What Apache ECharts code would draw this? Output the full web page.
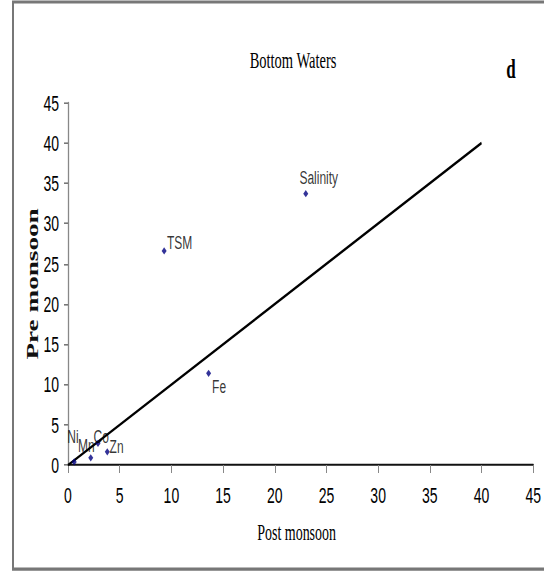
<!DOCTYPE html>
<html>
<head>
<meta charset="utf-8">
<title>Bottom Waters</title>
<script src="https://cdn.jsdelivr.net/npm/echarts@6/dist/echarts.min.js"></script>
<style>
  html, body { margin: 0; padding: 0; background: #fff; }
  #page { width: 544px; height: 571px; overflow: hidden; position: relative; background: #fff; }
  /* the figure is laid out at 1/1.6 height and stretched vertically */
  #chart { width: 544px; height: 356.875px; transform: scaleY(1.6); transform-origin: 0 0; }
</style>
</head>
<body>
<div id="page"><div id="chart"></div></div>
<script>
// Parameters compared between seasons (bottom waters)
const elements    = ['Salinity', 'TSM', 'Fe', 'Ni', 'Mn', 'Co', 'Zn'];
const postMonsoon = [23.0, 9.3, 13.6, 0.6, 2.2, 2.9, 3.8];
const preMonsoon  = [33.7, 26.6, 11.4, 0.4, 0.9, 2.7, 1.65];

// Axis ticks (both axes share the same scale)
const tickValues = [0, 5, 10, 15, 20, 25, 30, 35, 40, 45];

// 1:1 reference line
const lineStart = [0, 0];
const lineEnd   = [40, 40];

// Label placement next to each marker (pixels, before the vertical stretch)
const labelOffsets = {
  Salinity: [13, -10.3],
  TSM: [15.5, -5],
  Fe: [10.5, 8.1],
  Ni: [-1.3, -15.9],
  Mn: [-4.5, -7.9],
  Co: [3.2, -4.6],
  Zn: [9.3, -3.1]
};

const SANS = "'Liberation Sans', Arial, sans-serif";
const SERIF = "'Liberation Serif', 'Times New Roman', serif";

const tickMin = tickValues[0];
const tickMax = tickValues[tickValues.length - 1];
const tickStep = tickValues[1] - tickValues[0];

const points = elements.map((name, i) => ({
  name: name,
  value: [postMonsoon[i], preMonsoon[i]],
  label: { offset: labelOffsets[name] }
}));

const chart = echarts.init(document.getElementById('chart'), null, { renderer: 'svg' });

chart.setOption({
  animation: false,
  backgroundColor: '#fff',
  grid: { left: 68, right: 10.7, top: 64.2, bottom: 66.3, containLabel: false },
  graphic: [
    {
      type: 'rect',
      silent: true,
      shape: { x: 13, y: 1.25, width: 600, height: 354.4 },
      style: { fill: 'none', stroke: '#777', lineWidth: 2 }
    },
    {
      type: 'text',
      x: 293, y: 37.6,
      style: {
        text: 'Bottom Waters', fill: '#000',
        font: "14.5px " + SERIF,
        textAlign: 'center', textVerticalAlign: 'middle'
      }
    },
    {
      type: 'text',
      x: 511, y: 43,
      style: {
        text: 'd', fill: '#000',
        font: "bold 17px " + SERIF,
        textAlign: 'center', textVerticalAlign: 'middle'
      }
    }
  ],
  xAxis: {
    type: 'value',
    min: tickMin, max: tickMax, interval: tickStep,
    name: 'Post monsoon',
    nameLocation: 'middle',
    nameGap: 34.7,
    nameTextStyle: { fontFamily: SERIF, fontSize: 14, color: '#000', padding: [0, 8, 0, 0] },
    axisLine: { show: true, onZero: false, lineStyle: { color: '#111', width: 1.25 } },
    axisTick: { show: true, inside: false, length: 5, lineStyle: { color: '#888', width: 1 } },
    axisLabel: { margin: 12, fontFamily: SANS, fontSize: 14, color: '#000' },
    splitLine: { show: false }
  },
  yAxis: {
    type: 'value',
    min: tickMin, max: tickMax, interval: tickStep,
    name: 'Pre monsoon',
    nameLocation: 'middle',
    nameGap: 27,
    nameMoveOverlap: false,
    nameTextStyle: { fontFamily: SERIF, fontSize: 17, fontWeight: 'bold', color: '#111' },
    axisLine: { show: true, lineStyle: { color: '#888', width: 1.3 } },
    axisTick: { show: true, inside: false, length: 4, lineStyle: { color: '#777', width: 1 } },
    axisLabel: { margin: 9, fontFamily: SANS, fontSize: 14, color: '#000' },
    splitLine: { show: false }
  },
  series: [
    {
      name: '1:1',
      type: 'line',
      data: [lineStart, lineEnd],
      symbol: 'none',
      silent: true,
      lineStyle: { color: '#000', width: 1.7 },
      z: 2
    },
    {
      name: 'Bottom Waters',
      type: 'scatter',
      data: points,
      symbol: 'diamond',
      symbolSize: [5, 4.5],
      itemStyle: { color: '#000080' },
      label: {
        show: true,
        position: 'inside',
        formatter: '{b}',
        align: 'center',
        verticalAlign: 'middle',
        fontFamily: SANS,
        fontSize: 12,
        color: '#000'
      },
      z: 3
    }
  ]
});
</script>
</body>
</html>
